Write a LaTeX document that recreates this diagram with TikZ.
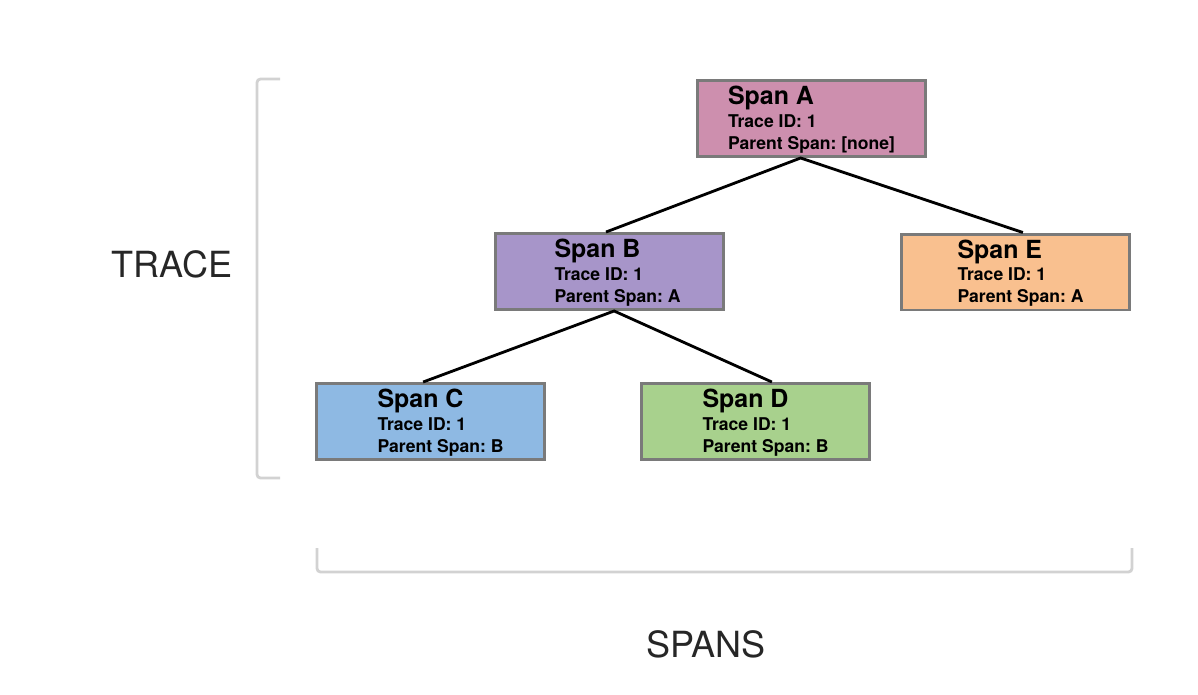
\documentclass[tikz,border=0pt]{standalone}
\usepackage{fontspec}
\setmainfont{TeX Gyre Heros}
\usetikzlibrary{positioning,calc}
\frenchspacing
\definecolor{spanpink}{RGB}{205,143,174}
\definecolor{spanpurple}{RGB}{167,149,201}
\definecolor{spanorange}{RGB}{249,192,143}
\definecolor{spanblue}{RGB}{142,185,227}
\definecolor{spangreen}{RGB}{168,209,141}
\definecolor{boxborder}{RGB}{122,122,122}
\definecolor{bracketgray}{RGB}{210,210,210}
% #1 = how far (in px) the text sits right of the box centre
\newcommand{\spantext}[4][0]{\hspace*{\dimexpr 0.04cm*#1\relax}%
    \begin{tabular}{@{}l@{}}\rule{0pt}{13.6pt}{\fontsize{14.2}{12.6}\selectfont #2}\\ Trace ID: #3\\ Parent Span: #4\end{tabular}}

\begin{document}
\begin{tikzpicture}[x=0.02cm,y=-0.02cm,
    spanbox/.style={draw=boxborder, line width=1.7pt, minimum width=4.56cm, minimum height=1.52cm,
        inner sep=0pt, font=\fontsize{10}{12.6}\selectfont\bfseries},
    link/.style={line width=1.6pt, black},
    bracket/.style={line width=1.6pt, bracketgray, rounded corners=2pt},
    axislabel/.style={font=\fontsize{20.5}{24}\selectfont, text=black!85}]
            \useasboundingbox (0,0) rectangle (1198,694);
            % spans
            \node[spanbox, fill=spanpink] (spanA) at (811.5,118.5) {\spantext{Span A}{1}{[none]}};
            \node[spanbox, fill=spanpurple] (spanB) at (609.5,271.5) {\spantext[8]{Span B}{1}{A}};
            \node[spanbox, fill=spanorange] (spanE) at (1015.5,272) {\spantext[5]{Span E}{1}{A}};
            \node[spanbox, fill=spanblue] (spanC) at (430.5,421.5) {\spantext[10]{Span C}{1}{B}};
            \node[spanbox, fill=spangreen] (spanD) at (755.5,421.5) {\spantext[10]{Span D}{1}{B}};
            % connectors
            \coordinate (A-out) at ($(spanA.south west)!0.453!(spanA.south east)$);
            \coordinate (B-in) at ($(spanB.north west)!0.485!(spanB.north east)$);
            \coordinate (E-in) at ($(spanE.north west)!0.532!(spanE.north east)$);
            \coordinate (B-out) at ($(spanB.south west)!0.52!(spanB.south east)$);
            \coordinate (C-in) at ($(spanC.north west)!0.468!(spanC.north east)$);
            \coordinate (D-in) at ($(spanD.north west)!0.571!(spanD.north east)$);
            \draw[link] (B-in) -- (A-out) -- (E-in);
            \draw[link] (C-in) -- (B-out) -- (D-in);
            % brackets
            \draw[bracket] (280,79) -- (257,79) -- (257,478) -- (280,478);
            \draw[bracket] (317,548) -- (317,572) -- (1132,572) -- (1132,548);
            \node[axislabel] (trace) at (172,264) {TRACE};
            \node[axislabel] (spans) at (706,644) {SPANS};
        \end{tikzpicture}
\end{document}
